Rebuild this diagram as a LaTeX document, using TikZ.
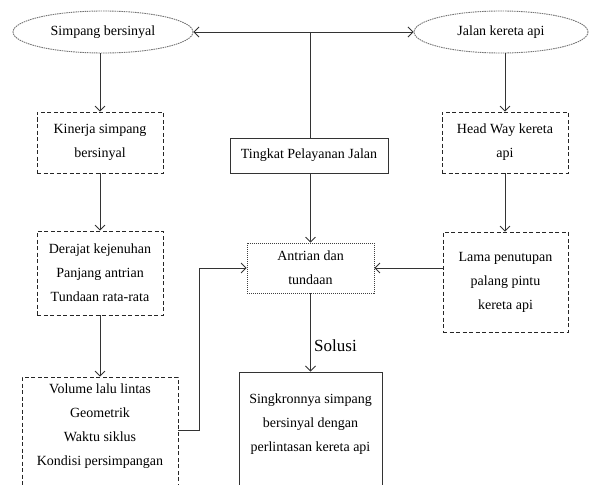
\documentclass[tikz,border=0pt]{standalone}
\usepackage{fontspec}
\setmainfont{Liberation Serif}
\usetikzlibrary{arrows.meta,shapes.geometric}
\begin{document}
\begin{tikzpicture}[x=1pt,y=-1pt,
  txt/.style={font=\fontsize{14}{24}\selectfont, align=center, text=black},
  ebox/.style={ellipse, draw=black!55, dash pattern=on 1.5pt off 0.8pt, line width=0.9pt, inner sep=0pt},
  dbox/.style={rectangle, draw=black!85, dash pattern=on 4pt off 2.5pt, line width=0.8pt, inner sep=0pt},
  fbox/.style={rectangle, draw=black!75, dash pattern=on 1pt off 1pt, line width=0.8pt, inner sep=0pt},
  sbox/.style={rectangle, draw=black!80, line width=0.9pt, inner sep=0pt},
  lin/.style={draw=black!80, line width=0.8pt},
  arr/.style={lin, -{Straight Barb[length=5pt,width=10pt]}},
  arrs/.style={lin, {Straight Barb[length=5pt,width=10pt]}-{Straight Barb[length=5pt,width=10pt]}}
]
\useasboundingbox (0,0) rectangle (593,484);
\clip (0,0) rectangle (593,484);

% top ellipses
\node[ebox, txt, minimum width=180pt, minimum height=42pt] (e1) at (103,32) {Simpang bersinyal};
\node[ebox, txt, minimum width=174pt, minimum height=42pt] (e2) at (501,32) {Jalan kereta api};

% middle
\node[sbox, txt, minimum width=158pt, minimum height=35pt] (tk) at (309,155.5) {Tingkat Pelayanan Jalan};
\node[fbox, txt, minimum width=127pt, minimum height=50pt] (an) at (310.5,268) {Antrian dan\\tundaan};

% left chain
\node[dbox, txt, minimum width=126pt, minimum height=61pt] (ki) at (100,142.5) {Kinerja simpang\\bersinyal};
\node[dbox, txt, minimum width=126pt, minimum height=84pt] (de) at (100,273) {Derajat kejenuhan\\Panjang antrian\\Tundaan rata-rata};
\node[dbox, minimum width=156pt, minimum height=130pt] (vo) at (100,442) {};
\node[txt] (vot) at (100,426) {Volume lalu lintas\\Geometrik\\Waktu siklus\\Kondisi persimpangan};

% right chain
\node[dbox, txt, minimum width=126pt, minimum height=61pt] (hw) at (505,142.5) {Head Way kereta\\api};
\node[dbox, txt, minimum width=125pt, minimum height=100pt] (la) at (505.5,282) {Lama penutupan\\palang pintu\\kereta api};

% solution
\node[sbox, minimum width=143pt, minimum height=130pt] (si) at (310.5,437) {};
\node[txt] (sit) at (310.5,424) {Singkronnya simpang\\bersinyal dengan\\perlintasan kereta api};

% connectors
\coordinate (j) at (310,32);
\draw[arrs] (e1.east) -- (e2.west);
\draw[lin] (j) -- (tk.north -| j);
\draw[arr] (tk.south -| an.north) -- (an.north);

\draw[arr] (e1.south -| ki.north) -- (ki.north);
\draw[arr] (ki.south) -- (de.north);
\draw[arr] (de.south) -- (vo.north);
\coordinate (vc) at (199,430);
\draw[arr] (vo.east |- vc) -- (vc) |- (an.west);

\draw[arr] (e2.south -| hw.north) -- (hw.north);
\draw[arr] (hw.south) -- (la.north -| hw.south);
\draw[arr] (la.west |- an.east) -- (an.east);

\draw[arr] (an.south) -- node[pos=0.67, right, font=\fontsize{17}{20}\selectfont, text=black] (sol) {Solusi} (si.north);
\end{tikzpicture}
\end{document}
